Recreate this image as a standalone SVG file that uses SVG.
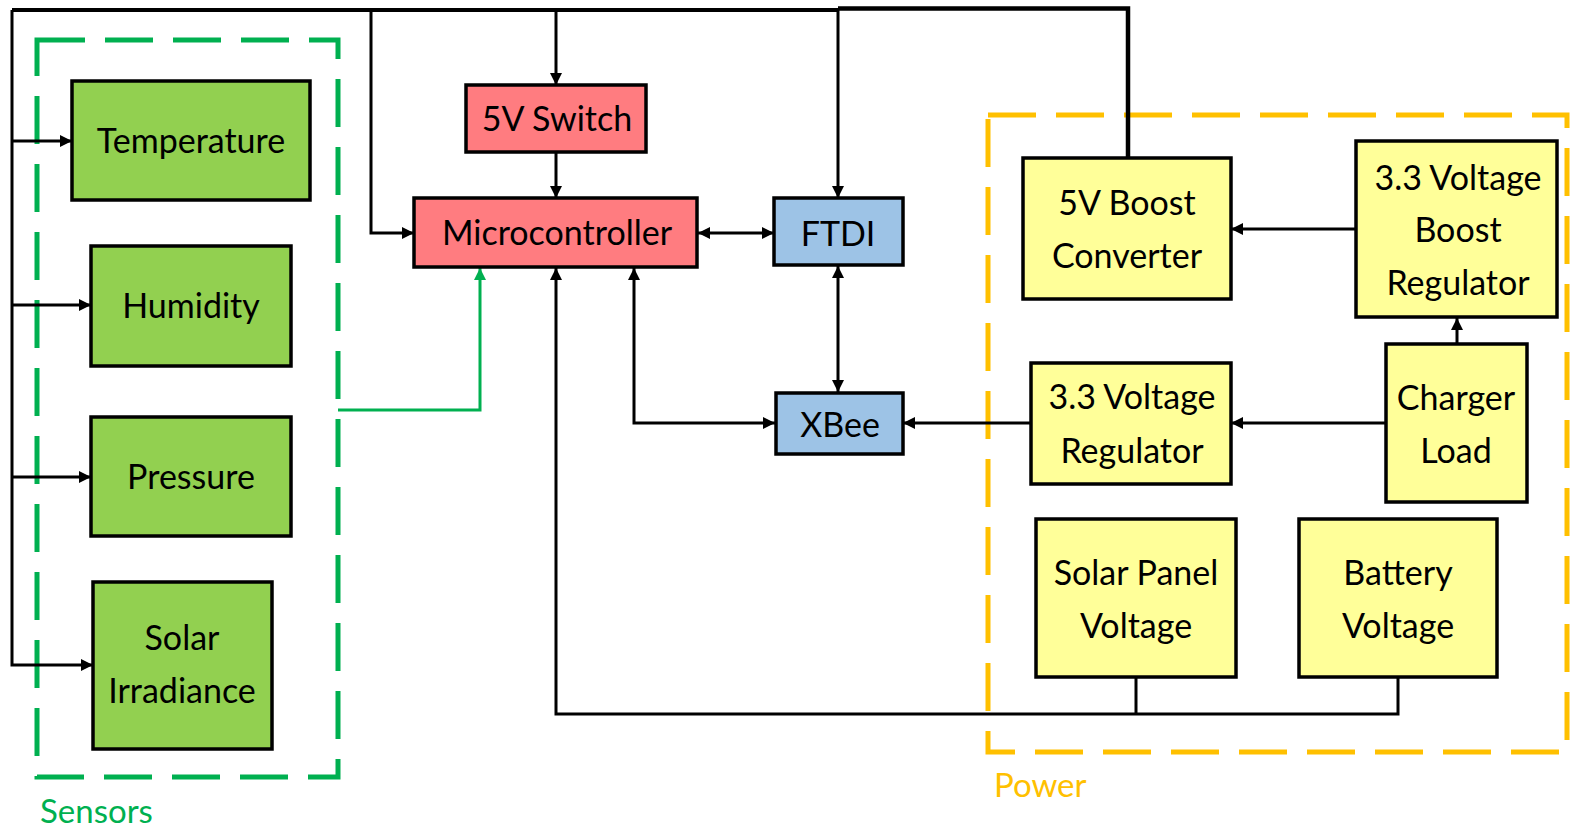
<svg xmlns="http://www.w3.org/2000/svg" width="1571" height="829" viewBox="0 0 1571 829">
<style>
.box{stroke:#000;stroke-width:3.5}
.g{fill:#92D050}.r{fill:#FF7C80}.b{fill:#9DC3E6}.y{fill:#FFFF99}
.t{font-family:Lato,"Open Sans",sans-serif;font-size:34px;fill:#000;text-anchor:middle}
.lbl{font-family:Lato,"Open Sans",sans-serif;font-size:33px}
.w{fill:none;stroke:#000;stroke-width:3}
.gw{fill:none;stroke:#00B050;stroke-width:3}
.grp{fill:none;stroke-width:5;stroke-dasharray:48 20}
</style>
<defs>
<marker id="a" markerUnits="userSpaceOnUse" markerWidth="14" markerHeight="12" refX="12" refY="6" orient="auto-start-reverse"><path d="M0,0 L12,6 L0,12 Z" fill="#000"/></marker>
<marker id="ag" markerUnits="userSpaceOnUse" markerWidth="14" markerHeight="12" refX="12" refY="6" orient="auto-start-reverse"><path d="M0,0 L12,6 L0,12 Z" fill="#00B050"/></marker>
</defs>
<rect width="1571" height="829" fill="#fff"/>
<g id="sensors-group">
<rect class="grp" x="37" y="40" width="301" height="737" stroke="#00B050"/>
<text class="lbl" x="40" y="823" fill="#00B050">Sensors</text>
</g>
<g id="power-group">
<rect class="grp" x="988" y="115" width="579" height="637" stroke="#FFC000"/>
<text class="lbl" x="994" y="797" fill="#FFC000">Power</text>
</g>
<g id="connectors">
<path class="w" d="M12,10 H838" style="stroke-width:4"/>
<path class="w" d="M838,8.5 H1128 V158" style="stroke-width:4.5"/>
<path class="w" d="M12,10 V665 H93" marker-end="url(#a)"/>
<path class="w" d="M12,141 H72" marker-end="url(#a)"/>
<path class="w" d="M12,305 H91" marker-end="url(#a)"/>
<path class="w" d="M12,477 H91" marker-end="url(#a)"/>
<path class="w" d="M371,10 V233 H414" marker-end="url(#a)"/>
<path class="w" d="M556,10 V85" marker-end="url(#a)"/>
<path class="w" d="M556,152 V198" marker-end="url(#a)"/>
<path class="w" d="M838,10 V198" marker-end="url(#a)"/>
<path class="w" d="M698,233 H774" marker-start="url(#a)" marker-end="url(#a)"/>
<path class="w" d="M838,266 V392" marker-start="url(#a)" marker-end="url(#a)"/>
<path class="w" d="M634,268 V423 H775" marker-start="url(#a)" marker-end="url(#a)"/>
<path class="w" d="M1398,677 V714 H556 V268" marker-end="url(#a)"/>
<path class="w" d="M1136,677 V714"/>
<path class="gw" d="M338,410 H480 V268" marker-end="url(#ag)"/>
<path class="w" d="M1031,423 H903" marker-end="url(#a)"/>
<path class="w" d="M1386,423 H1231" marker-end="url(#a)"/>
<path class="w" d="M1356,229 H1231" marker-end="url(#a)"/>
<path class="w" d="M1457,343 V318" marker-end="url(#a)"/>
</g>
<g id="temperature"><rect class="box g" x="72" y="81" width="238" height="119"/><text class="t" x="191" y="153">Temperature</text></g>
<g id="humidity"><rect class="box g" x="91" y="246" width="200" height="120"/><text class="t" x="191" y="318">Humidity</text></g>
<g id="pressure"><rect class="box g" x="91" y="417" width="200" height="119"/><text class="t" x="191" y="489">Pressure</text></g>
<g id="solar-irradiance"><rect class="box g" x="93" y="582" width="179" height="167"/><text class="t" x="182" y="650">Solar</text><text class="t" x="182" y="703">Irradiance</text></g>
<g id="switch-5v"><rect class="box r" x="466" y="85" width="180" height="67"/><text class="t" x="557" y="131">5V Switch</text></g>
<g id="microcontroller"><rect class="box r" x="414" y="198" width="283" height="69"/><text class="t" x="557" y="245">Microcontroller</text></g>
<g id="ftdi"><rect class="box b" x="774" y="198" width="129" height="67"/><text class="t" x="838" y="246">FTDI</text></g>
<g id="xbee"><rect class="box b" x="776" y="393" width="127" height="61"/><text class="t" x="840" y="437">XBee</text></g>
<g id="boost-5v"><rect class="box y" x="1023" y="158" width="208" height="141"/><text class="t" x="1127" y="215">5V Boost</text><text class="t" x="1127" y="268">Converter</text></g>
<g id="boost-reg-33"><rect class="box y" x="1356" y="141" width="201" height="176"/><text class="t" x="1458" y="190">3.3 Voltage</text><text class="t" x="1458" y="242">Boost</text><text class="t" x="1458" y="295">Regulator</text></g>
<g id="reg-33"><rect class="box y" x="1031" y="363" width="200" height="121"/><text class="t" x="1132" y="409">3.3 Voltage</text><text class="t" x="1132" y="463">Regulator</text></g>
<g id="charger-load"><rect class="box y" x="1386" y="344" width="141" height="158"/><text class="t" x="1456" y="410">Charger</text><text class="t" x="1456" y="463">Load</text></g>
<g id="solar-panel-voltage"><rect class="box y" x="1036" y="519" width="200" height="158"/><text class="t" x="1136" y="585">Solar Panel</text><text class="t" x="1136" y="638">Voltage</text></g>
<g id="battery-voltage"><rect class="box y" x="1299" y="519" width="198" height="158"/><text class="t" x="1398" y="585">Battery</text><text class="t" x="1398" y="638">Voltage</text></g>
</svg>
